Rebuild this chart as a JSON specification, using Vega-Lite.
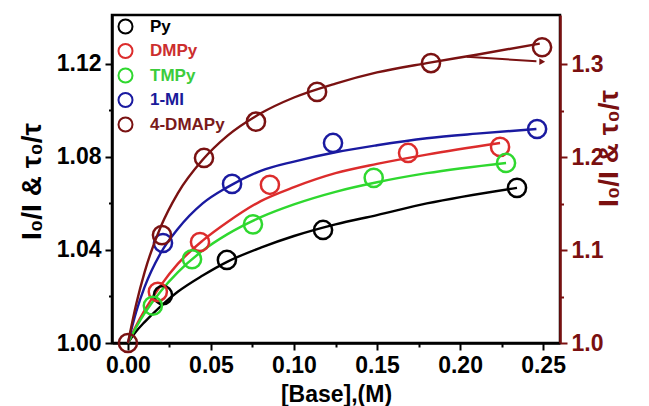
{
  "$schema": "https://vega.github.io/schema/vega-lite/v6.json",
  "width": 448,
  "height": 328,
  "autosize": {"type": "none"},
  "padding": {"left": 112, "top": 15, "right": 89, "bottom": 63},
  "background": "white",
  "config": {
    "view": {"stroke": "#000000", "strokeWidth": 2.5},
    "font": "Liberation Sans",
    "axis": {
      "grid": false,
      "domainWidth": 2.5,
      "domainColor": "#000000",
      "tickWidth": 2,
      "tickColor": "#000000",
      "labelFont": "Liberation Sans",
      "labelFontWeight": "bold",
      "labelFontSize": 23,
      "labelColor": "#000000",
      "labelOverlap": false,
      "labelFlush": false,
      "titleFont": "Liberation Sans",
      "titleFontWeight": "bold",
      "titleColor": "#000000"
    }
  },
  "datasets": {
    "main": [
      {"s": "Py", "k": "pt", "x": 0.0211, "y": 1.0206},
      {"s": "Py", "k": "pt", "x": 0.0596, "y": 1.0357},
      {"s": "Py", "k": "pt", "x": 0.1175, "y": 1.0486},
      {"s": "Py", "k": "pt", "x": 0.2343, "y": 1.0667},
      {"s": "DMPy", "k": "pt", "x": 0.018, "y": 1.022},
      {"s": "DMPy", "k": "pt", "x": 0.0434, "y": 1.0434},
      {"s": "DMPy", "k": "pt", "x": 0.0855, "y": 1.068},
      {"s": "DMPy", "k": "pt", "x": 0.1687, "y": 1.0817},
      {"s": "DMPy", "k": "pt", "x": 0.2241, "y": 1.0843},
      {"s": "TMPy", "k": "pt", "x": 0.015, "y": 1.016},
      {"s": "TMPy", "k": "pt", "x": 0.0386, "y": 1.036},
      {"s": "TMPy", "k": "pt", "x": 0.0753, "y": 1.051},
      {"s": "TMPy", "k": "pt", "x": 0.148, "y": 1.071},
      {"s": "TMPy", "k": "pt", "x": 0.2277, "y": 1.0774},
      {"s": "1-MI", "k": "pt", "x": 0.0211, "y": 1.043},
      {"s": "1-MI", "k": "pt", "x": 0.0627, "y": 1.0684},
      {"s": "1-MI", "k": "pt", "x": 0.1235, "y": 1.086},
      {"s": "1-MI", "k": "pt", "x": 0.2464, "y": 1.092},
      {"s": "4-DMAPy", "k": "pt", "x": 0, "y": 1.0},
      {"s": "4-DMAPy", "k": "pt", "x": 0.0205, "y": 1.116},
      {"s": "4-DMAPy", "k": "pt", "x": 0.0458, "y": 1.199},
      {"s": "4-DMAPy", "k": "pt", "x": 0.0771, "y": 1.238},
      {"s": "4-DMAPy", "k": "pt", "x": 0.1139, "y": 1.27},
      {"s": "4-DMAPy", "k": "pt", "x": 0.1825, "y": 1.301},
      {"s": "4-DMAPy", "k": "pt", "x": 0.2494, "y": 1.318},

      {"s": "Py", "k": "fit", "x": 0, "y": 1.0},
      {"s": "Py", "k": "fit", "x": 0.005, "y": 1.005},
      {"s": "Py", "k": "fit", "x": 0.01, "y": 1.009},
      {"s": "Py", "k": "fit", "x": 0.02, "y": 1.016},
      {"s": "Py", "k": "fit", "x": 0.03, "y": 1.022},
      {"s": "Py", "k": "fit", "x": 0.045, "y": 1.029},
      {"s": "Py", "k": "fit", "x": 0.06, "y": 1.035},
      {"s": "Py", "k": "fit", "x": 0.08, "y": 1.041},
      {"s": "Py", "k": "fit", "x": 0.1, "y": 1.046},
      {"s": "Py", "k": "fit", "x": 0.125, "y": 1.051},
      {"s": "Py", "k": "fit", "x": 0.15, "y": 1.055},
      {"s": "Py", "k": "fit", "x": 0.18, "y": 1.06},
      {"s": "Py", "k": "fit", "x": 0.2343, "y": 1.0667},

      {"s": "DMPy", "k": "fit", "x": 0, "y": 1.0},
      {"s": "DMPy", "k": "fit", "x": 0.005, "y": 1.0075},
      {"s": "DMPy", "k": "fit", "x": 0.01, "y": 1.014},
      {"s": "DMPy", "k": "fit", "x": 0.02, "y": 1.025},
      {"s": "DMPy", "k": "fit", "x": 0.03, "y": 1.034},
      {"s": "DMPy", "k": "fit", "x": 0.045, "y": 1.044},
      {"s": "DMPy", "k": "fit", "x": 0.06, "y": 1.052},
      {"s": "DMPy", "k": "fit", "x": 0.08, "y": 1.061},
      {"s": "DMPy", "k": "fit", "x": 0.1, "y": 1.067},
      {"s": "DMPy", "k": "fit", "x": 0.125, "y": 1.073},
      {"s": "DMPy", "k": "fit", "x": 0.15, "y": 1.077},
      {"s": "DMPy", "k": "fit", "x": 0.18, "y": 1.081},
      {"s": "DMPy", "k": "fit", "x": 0.2241, "y": 1.086},

      {"s": "TMPy", "k": "fit", "x": 0, "y": 1.0},
      {"s": "TMPy", "k": "fit", "x": 0.005, "y": 1.0068},
      {"s": "TMPy", "k": "fit", "x": 0.01, "y": 1.0127},
      {"s": "TMPy", "k": "fit", "x": 0.02, "y": 1.0225},
      {"s": "TMPy", "k": "fit", "x": 0.03, "y": 1.0304},
      {"s": "TMPy", "k": "fit", "x": 0.045, "y": 1.0397},
      {"s": "TMPy", "k": "fit", "x": 0.06, "y": 1.0468},
      {"s": "TMPy", "k": "fit", "x": 0.08, "y": 1.0541},
      {"s": "TMPy", "k": "fit", "x": 0.1, "y": 1.0596},
      {"s": "TMPy", "k": "fit", "x": 0.125, "y": 1.065},
      {"s": "TMPy", "k": "fit", "x": 0.15, "y": 1.0691},
      {"s": "TMPy", "k": "fit", "x": 0.18, "y": 1.073},
      {"s": "TMPy", "k": "fit", "x": 0.2277, "y": 1.0774},

      {"s": "1-MI", "k": "fit", "x": 0, "y": 1.0},
      {"s": "1-MI", "k": "fit", "x": 0.005, "y": 1.0135},
      {"s": "1-MI", "k": "fit", "x": 0.01, "y": 1.024},
      {"s": "1-MI", "k": "fit", "x": 0.02, "y": 1.039},
      {"s": "1-MI", "k": "fit", "x": 0.03, "y": 1.049},
      {"s": "1-MI", "k": "fit", "x": 0.045, "y": 1.06},
      {"s": "1-MI", "k": "fit", "x": 0.06, "y": 1.067},
      {"s": "1-MI", "k": "fit", "x": 0.08, "y": 1.074},
      {"s": "1-MI", "k": "fit", "x": 0.1, "y": 1.078},
      {"s": "1-MI", "k": "fit", "x": 0.125, "y": 1.082},
      {"s": "1-MI", "k": "fit", "x": 0.15, "y": 1.085},
      {"s": "1-MI", "k": "fit", "x": 0.18, "y": 1.088},
      {"s": "1-MI", "k": "fit", "x": 0.21, "y": 1.09},
      {"s": "1-MI", "k": "fit", "x": 0.246, "y": 1.092},

      {"s": "4-DMAPy", "k": "fit", "x": 0, "y": 1.0},
      {"s": "4-DMAPy", "k": "fit", "x": 0.005, "y": 1.042},
      {"s": "4-DMAPy", "k": "fit", "x": 0.01, "y": 1.076},
      {"s": "4-DMAPy", "k": "fit", "x": 0.02, "y": 1.126},
      {"s": "4-DMAPy", "k": "fit", "x": 0.03, "y": 1.161},
      {"s": "4-DMAPy", "k": "fit", "x": 0.045, "y": 1.197},
      {"s": "4-DMAPy", "k": "fit", "x": 0.06, "y": 1.223},
      {"s": "4-DMAPy", "k": "fit", "x": 0.08, "y": 1.247},
      {"s": "4-DMAPy", "k": "fit", "x": 0.1, "y": 1.264},
      {"s": "4-DMAPy", "k": "fit", "x": 0.125, "y": 1.279},
      {"s": "4-DMAPy", "k": "fit", "x": 0.15, "y": 1.291},
      {"s": "4-DMAPy", "k": "fit", "x": 0.18, "y": 1.301},
      {"s": "4-DMAPy", "k": "fit", "x": 0.21, "y": 1.31},
      {"s": "4-DMAPy", "k": "fit", "x": 0.248, "y": 1.322}
    ],
    "arrow": [
      {"x": 0.204, "y": 1.3079, "x2": 0.246, "y2": 1.3029, "tx": 0.2495, "ty": 1.3025}
    ]
  },
  "layer": [
    {
      "data": {"name": "main"},
      "transform": [{"filter": "datum.s != '4-DMAPy'"}],
      "encoding": {
        "x": {
          "field": "x", "type": "quantitative",
          "scale": {"domain": [-0.0096, 0.2602], "nice": false, "zero": false},
          "axis": {
            "title": "[Base],(M)",
            "titleFontSize": 23,
            "titleBaseline": "alphabetic",
            "titleY": 58,
            "values": [0, 0.025, 0.05, 0.075, 0.1, 0.125, 0.15, 0.175, 0.2, 0.225, 0.25],
            "labelExpr": "round(datum.value*1000) % 50 == 0 ? format(datum.value, '.2f') : ''",
            "tickSize": {"condition": {"test": "round(datum.value*1000) % 50 == 0", "value": 7}, "value": 4},
            "labelPadding": 4
          }
        },
        "y": {
          "field": "y", "type": "quantitative",
          "scale": {"domain": [1.0, 1.141], "nice": false, "zero": false},
          "axis": {
            "title": "I₀/I & τ₀/τ",
            "titleFontSize": 28,
            "titleAngle": 270,
            "titleBaseline": "alphabetic",
            "titleX": -72,
            "titleY": 166,
            "titleAlign": "center",
            "values": [1.0, 1.02, 1.04, 1.06, 1.08, 1.1, 1.12],
            "labelExpr": "round(datum.value*100) % 4 == 0 ? format(datum.value, '.2f') : ''",
            "tickSize": {"condition": {"test": "round(datum.value*100) % 4 == 0", "value": 7}, "value": 3.5},
            "labelPadding": 4
          }
        },
        "color": {
          "field": "s", "type": "nominal",
          "scale": {
            "domain": ["Py", "DMPy", "TMPy", "1-MI", "4-DMAPy"],
            "range": ["#000000", "#dc2c2c", "#2fd82f", "#1a1aa0", "#7a1212"]
          },
          "legend": {
            "title": null,
            "orient": "none",
            "legendX": 5,
            "legendY": 3,
            "padding": 0,
            "rowPadding": 1.5,
            "symbolType": "circle",
            "symbolSize": 196,
            "symbolStrokeWidth": 2,
            "symbolFillColor": "transparent",
            "labelFont": "Liberation Sans",
            "labelFontWeight": "bold",
            "labelFontSize": 17,
            "labelOffset": 16,
            "encode": {
              "labels": {"update": {"fill": {"signal": "datum.value == 'DMPy' ? '#cc2e2e' : datum.value == 'TMPy' ? '#3ccc3c' : datum.value == '1-MI' ? '#1a1a9a' : datum.value == '4-DMAPy' ? '#7a1a1a' : '#000000'"}}},
              "symbols": {
                "enter": {"stroke": {"signal": "datum.value == 'DMPy' ? '#cc3a3a' : datum.value == 'TMPy' ? '#3ccc3c' : datum.value == '1-MI' ? '#1a1a9a' : '#000000'"}},
                "update": {"stroke": {"signal": "datum.value == 'DMPy' ? '#cc3a3a' : datum.value == 'TMPy' ? '#3ccc3c' : datum.value == '1-MI' ? '#1a1a9a' : '#000000'"}, "fill": {"value": "transparent"}, "opacity": {"value": 1}}
              }
            }
          }
        }
      },
      "layer": [
        {
          "transform": [{"filter": "datum.k == 'fit'"}],
          "mark": {"type": "line", "interpolate": "monotone", "strokeWidth": 2.4}
        },
        {
          "transform": [{"filter": "datum.k == 'pt'"}],
          "mark": {"type": "point", "shape": "circle", "filled": false, "size": 330, "strokeWidth": 2.5, "opacity": 1}
        }
      ]
    },
    {
      "layer": [
        {
          "data": {"name": "main"},
          "transform": [{"filter": "datum.s == '4-DMAPy' && datum.k == 'fit'"}],
          "mark": {"type": "line", "interpolate": "monotone", "strokeWidth": 2.4},
          "encoding": {
            "x": {"field": "x", "type": "quantitative", "scale": {"domain": [-0.0096, 0.2602], "nice": false, "zero": false}},
            "y": {
              "field": "y", "type": "quantitative",
              "scale": {"domain": [1.0, 1.3527], "nice": false, "zero": false},
              "axis": {
                "orient": "right",
                "title": "I₀/I & τ₀/τ",
                "titleFontSize": 28,
                "titleAngle": 270,
                "titleBaseline": "alphabetic",
                "titleX": 57,
                "titleY": 133,
                "titleAlign": "center",
                "titleColor": "#7a1010",
                "domainColor": "#7a1010",
                "tickColor": "#7a1010",
                "labelColor": "#7a1010",
                "values": [1.0, 1.05, 1.1, 1.15, 1.2, 1.25, 1.3],
                "labelExpr": "round(datum.value*100) % 10 == 0 ? format(datum.value, '.1f') : ''",
                "tickSize": {"condition": {"test": "round(datum.value*100) % 10 == 0", "value": 7}, "value": 3.5},
                "labelPadding": 4
              }
            },
            "color": {"field": "s", "type": "nominal"}
          }
        },
        {
          "data": {"name": "main"},
          "transform": [{"filter": "datum.s == '4-DMAPy' && datum.k == 'pt'"}],
          "mark": {"type": "point", "shape": "circle", "filled": false, "size": 330, "strokeWidth": 2.5, "opacity": 1},
          "encoding": {
            "x": {"field": "x", "type": "quantitative"},
            "y": {"field": "y", "type": "quantitative"},
            "color": {"field": "s", "type": "nominal"}
          }
        },
        {
          "data": {"name": "arrow"},
          "mark": {"type": "rule", "color": "#7a1212", "strokeWidth": 2},
          "encoding": {
            "x": {"field": "x", "type": "quantitative"},
            "y": {"field": "y", "type": "quantitative"},
            "x2": {"field": "x2"},
            "y2": {"field": "y2"}
          }
        },
        {
          "data": {"name": "arrow"},
          "mark": {"type": "point", "shape": "triangle-right", "filled": true, "color": "#7a1212", "size": 45, "opacity": 1},
          "encoding": {
            "x": {"field": "tx", "type": "quantitative"},
            "y": {"field": "ty", "type": "quantitative"}
          }
        }
      ]
    }
  ],
  "resolve": {"scale": {"y": "independent"}}
}
